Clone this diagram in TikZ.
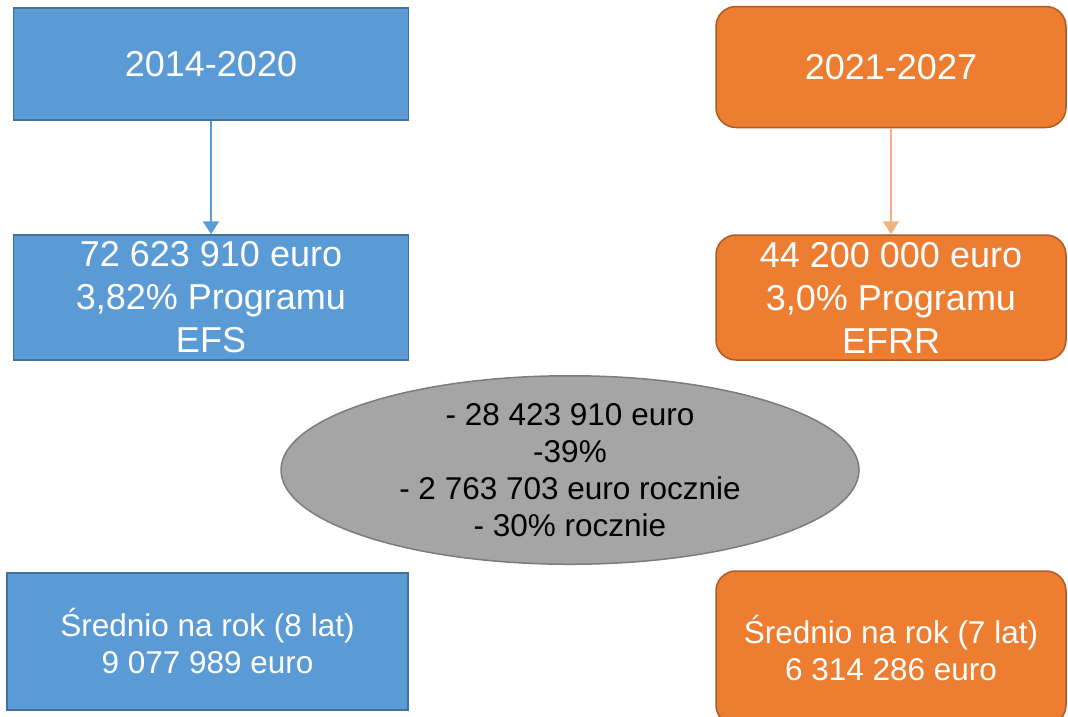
\documentclass[tikz,border=0pt]{standalone}
\usepackage{fontspec}
\setmainfont{Liberation Sans}
\usetikzlibrary{arrows.meta,shapes.geometric}
\definecolor{boxblue}{HTML}{5B9BD5}
\definecolor{edgeblue}{HTML}{41719C}
\definecolor{boxorange}{HTML}{ED7D31}
\definecolor{edgeorange}{HTML}{AE5A21}
\definecolor{arroworange}{HTML}{F4B183}
\definecolor{ellgray}{HTML}{A5A5A5}
\definecolor{edgegray}{HTML}{7C7C7C}

\begin{document}
\begin{tikzpicture}[x=1pt,y=-1pt,
    oldbox/.style={draw=edgeblue, fill=boxblue, line width=1.5pt, text=white, align=center, inner sep=0pt},
    newbox/.style={draw=edgeorange, fill=boxorange, line width=1.5pt, rounded corners=20pt, text=white, align=center, inner sep=0pt},
    bigtext/.style={font=\fontsize{36}{43}\selectfont},
    smalltext/.style={font=\fontsize{31.5}{37}\selectfont}]
          \useasboundingbox (0,0) rectangle (1068,716);

          % Periods
          \node[oldbox, bigtext, minimum width=395pt, minimum height=112pt] (old1) at (211,64) {2014-2020};
          \node[newbox, bigtext, minimum width=350pt, minimum height=121pt] (new1) at (891,67) {2021-2027};

          % Amounts
          \node[oldbox, bigtext, minimum width=395pt, minimum height=125pt] (old2) at (211,297.5) {72 623 910 euro\\3,82\% Programu\\EFS};
          \node[newbox, bigtext, minimum width=350pt, minimum height=125pt] (new2) at (891,297.5) {44 200 000 euro\\3,0\% Programu\\EFRR};

          % Arrows
          \draw[boxblue, line width=2pt, -{Triangle[width=16pt,length=13pt]}] (old1) -- (old2);
          \draw[arroworange, line width=2pt, -{Triangle[width=16pt,length=13pt]}] (new1) -- (new2);

          % Difference
          \node[ellipse, draw=edgegray, fill=ellgray, line width=1.5pt, smalltext, align=center, inner sep=0pt,
                minimum width=578pt, minimum height=184pt] (diff) at (570,470)
                {- 28 423 910 euro\\-39\%\\- 2 763 703 euro rocznie\\- 30\% rocznie};

          % Yearly averages
          \node[oldbox, smalltext, minimum width=401pt, minimum height=137pt] (old3) at (207.5,641.5) {Średnio na rok (8 lat)\\9 077 989 euro};
          \node[newbox, smalltext, minimum width=350pt, minimum height=154pt] (new3) at (891,648) {Średnio na rok (7 lat)\\6 314 286 euro};
    \end{tikzpicture}
\end{document}
